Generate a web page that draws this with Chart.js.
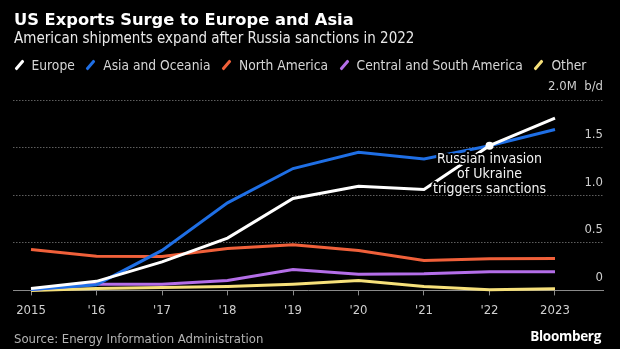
<!DOCTYPE html>
<html>
<head>
<meta charset="utf-8">
<script src="https://cdn.jsdelivr.net/npm/chart.js@4"></script>
<style>
  html, body { margin: 0; padding: 0; background: #000; }
  body { width: 620px; height: 349px; position: relative; overflow: hidden; font-family: "DejaVu Sans Condensed", "DejaVu Sans", sans-serif; }
  #chart { position: absolute; left: 0; top: 0; }
  .title { position: absolute; left: 14px; top: 10px; color: #fff; font: 700 16.3px "DejaVu Sans", sans-serif; white-space: nowrap; }
  .subtitle { position: absolute; left: 14px; top: 29px; color: #e8e8e8; font-size: 15px; white-space: nowrap; }
  #legend { position: absolute; left: 14px; top: 57px; display: flex; color: #d6d6d6; font-size: 13.7px; white-space: nowrap; }
  #legend .item { display: flex; align-items: center; margin-right: 11px; }
  #legend .mark { width: 3px; height: 12px; transform: rotate(40deg); margin: 0 11px 0 3.5px; border-radius: 1px; }
  .source { position: absolute; left: 14px; top: 331px; color: #b4b4b4; font-size: 13px; white-space: nowrap; }
  .brand { position: absolute; right: 19px; top: 327px; color: #fff; font: 700 13.5px "Open Sans", sans-serif; letter-spacing: -0.3px; }
</style>
</head>
<body>
<canvas id="chart" width="620" height="349"></canvas>
<div class="title">US Exports Surge to Europe and Asia</div>
<div class="subtitle">American shipments expand after Russia sanctions in 2022</div>
<div id="legend"></div>
<div class="source">Source: Energy Information Administration</div>
<div class="brand">Bloomberg</div>
<script>
// Years and tick labels
const years = [2015, 2016, 2017, 2018, 2019, 2020, 2021, 2022, 2023];
const yearLabels = ['2015', "'16", "'17", "'18", "'19", "'20", "'21", "'22", '2023'];
const yTickLabels = { 0: '0', 0.5: '0.5', 1: '1.0', 1.5: '1.5', 2: '2.0M  b/d' };

// US crude exports by destination, million b/d
const europe = [0.02, 0.095, 0.30, 0.55, 0.965, 1.095, 1.06, 1.52, 1.81];
const asiaOceania = [0.01, 0.06, 0.42, 0.92, 1.28, 1.45, 1.38, 1.52, 1.69];
const northAmerica = [0.43, 0.36, 0.355, 0.44, 0.48, 0.42, 0.315, 0.333, 0.335];
const centralSouthAmerica = [0.01, 0.065, 0.065, 0.105, 0.22, 0.17, 0.175, 0.197, 0.195];
const other = [0.0, 0.02, 0.03, 0.04, 0.065, 0.105, 0.04, 0.007, 0.018];

const seriesNames = ['Europe', 'Asia and Oceania', 'North America', 'Central and South America', 'Other'];
const seriesColors = ['#ffffff', '#1f6fe5', '#f0603a', '#b46ee8', '#f6e07a'];
const seriesData = [europe, asiaOceania, northAmerica, centralSouthAmerica, other];

// Annotation
const noteYear = 2022;
const noteValue = 1.52;
const noteLines = ['Russian invasion', 'of Ukraine', 'triggers sanctions'];

// Legend (html)
const legendEl = document.getElementById('legend');
seriesNames.forEach((name, i) => {
    const item = document.createElement('div');
    item.className = 'item';
    item.innerHTML = `<span class="mark" style="background:${seriesColors[i]}"></span><span>${name}</span>`;
    legendEl.appendChild(item);
});

const datasets = seriesData.map((vals, i) => ({
    label: seriesNames[i],
    data: vals.map((v, j) => ({ x: years[j], y: v })),
    borderColor: seriesColors[i],
    backgroundColor: seriesColors[i],
    borderWidth: 3,
    pointRadius: 0,
    tension: 0,
    clip: false
}));

// white dot at the annotation point
datasets.unshift({
    label: 'note',
    data: [{ x: noteYear, y: noteValue }],
    showLine: false,
    pointRadius: 4,
    pointBackgroundColor: '#ffffff',
    pointBorderWidth: 0,
    clip: false
});

const notePlugin = {
    id: 'note',
    afterDatasetsDraw(chart) {
        const { ctx, scales } = chart;
        const x = scales.x.getPixelForValue(noteYear);
        const y = scales.y.getPixelForValue(noteValue);
        ctx.save();
        ctx.font = '14px "DejaVu Sans Condensed", "DejaVu Sans", sans-serif';
        ctx.textAlign = 'center';
        ctx.textBaseline = 'middle';
        ctx.lineJoin = 'round';
        noteLines.forEach((line, i) => {
            const ly = y + 14 + i * 14.7;
            ctx.strokeStyle = '#000';
            ctx.lineWidth = 4;
            ctx.strokeText(line, x, ly);
            ctx.fillStyle = '#f2f2f2';
            ctx.fillText(line, x, ly);
        });
        ctx.restore();
    }
};

new Chart(document.getElementById('chart'), {
    type: 'line',
    data: { datasets },
    options: {
        responsive: false,
        animation: false,
        events: [],
        layout: { padding: { left: 13, right: 17, top: 100, bottom: 24 } },
        plugins: { legend: { display: false }, tooltip: { enabled: false } },
        scales: {
            x: {
                type: 'linear',
                min: 2014.725,
                max: 2023.733,
                afterBuildTicks: axis => { axis.ticks = years.map(v => ({ value: v })); },
                ticks: {
                    color: '#cfcfcf',
                    font: { family: '"DejaVu Sans Condensed", "DejaVu Sans", sans-serif', size: 13 },
                    padding: 7,
                    maxRotation: 0,
                    autoSkip: false,
                    callback: (v) => yearLabels[years.indexOf(v)]
                },
                grid: { drawOnChartArea: false, drawTicks: true, tickLength: 5, color: '#8a8a8a' },
                border: { display: true, color: '#8a8a8a', width: 1 }
            },
            y: {
                position: 'right',
                min: 0,
                max: 2,
                ticks: {
                    stepSize: 0.5,
                    mirror: true,
                    padding: 0,
                    labelOffset: -13,
                    color: '#cfcfcf',
                    font: { family: '"DejaVu Sans Condensed", "DejaVu Sans", sans-serif', size: 13 },
                    callback: (v) => yTickLabels[v]
                },
                grid: {
                    drawTicks: false,
                    color: (c) => c.tick && c.tick.value === 0 ? 'rgba(0,0,0,0)' : '#5e5e5e',
                    lineWidth: 1
                },
                border: { display: false, dash: [1.5, 1.5] }
            }
        }
    },
    plugins: [notePlugin]
});
</script>
</body>
</html>
